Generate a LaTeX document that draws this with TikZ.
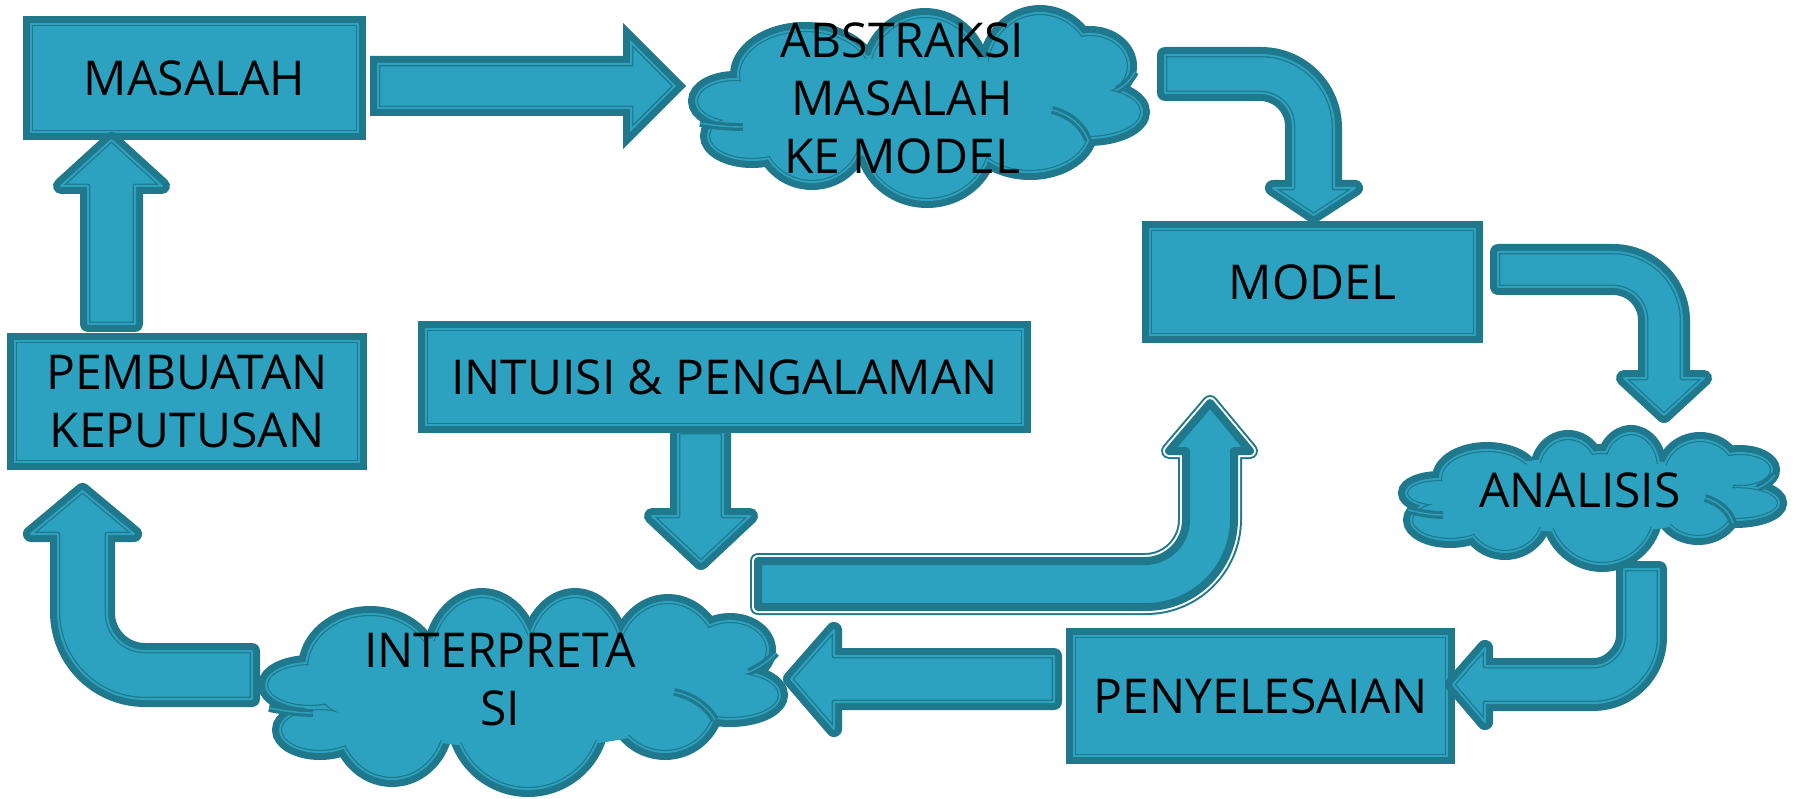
\documentclass[tikz,border=0pt]{standalone}
\usepackage{fontspec}
\setmainfont{Open Sans}
\definecolor{cfill}{RGB}{44,162,192}
\definecolor{cdark}{RGB}{31,120,140}
\newcommand\dfont{\fontsize{48}{58}\selectfont}
\tikzset{
  bord/.style={preaction={draw=cdark, line width=16pt, line join=#1},
    fill=cfill, draw=cdark, line width=1.3pt, double=cfill, double distance=2pt, line join=#1},
  bord/.default=round,
  wbord/.style={preaction={draw=cdark, line width=16pt, line join=round},
    preaction={draw=white, line width=12pt, line join=round},
    fill=cfill, draw=cdark, line width=8pt, line join=round},
  boxn/.style={bord=miter, rectangle, inner sep=0pt, font=\dfont, text=black, align=center},
  stub/.style={draw=cdark, line width=3.2pt, double=cfill, double distance=1.4pt, line cap=butt},
  txt/.style={font=\dfont, text=black, align=center, inner sep=0pt}
}
% cloud = union of ellipses (outer radii given), #2 = inner filler
\newcommand\mycloud[2]{%
  \foreach \x/\y/\a/\b in {#1} \draw[cdark, line width=16pt] (\x,\y) ellipse[x radius=\a-8, y radius=\b-8];
  \foreach \x/\y/\a/\b in {#1,#2} \fill[cfill] (\x,\y) ellipse[x radius=\a-7, y radius=\b-7];
  \foreach \x/\y/\a/\b in {#1} \draw[cdark, line width=1.3pt] (\x,\y) ellipse[x radius=\a-9.65, y radius=\b-9.65];
  \foreach \x/\y/\a/\b in {#1,#2} \fill[cfill] (\x,\y) ellipse[x radius=\a-10.3, y radius=\b-10.3];
}
\begin{document}
\begin{tikzpicture}[x=1pt, y=-1pt]
\useasboundingbox (0,0) rectangle (1793,799);
% clouds
\mycloud{735/101/47/30, 805/75/75/53, 925/75/65/67, 1040/70/62/65, 1090/66/47/40, 1088/112/62/34,
  1030/130/68/50, 927/140/72/68, 812/135/58/55, 752/136/52/32}{919/106/170/60}
\mycloud{1440/493/42/22, 1487/478/55/36, 1568/470/38/40, 1631/468/36/43, 1700/475/45/43, 1740/470/40/25,
  1735/503/52/25, 1698/505/45/40, 1602/508/62/64, 1505/512/48/48, 1450/520/47/28}{1592/495/150/45}
\mycloud{310/685/52/30, 370/668/72/62, 482/662/60/74, 575/658/56/70, 668/662/60/68, 730/650/46/37,
  730/695/58/32, 665/700/60/60, 528/715/82/82, 392/720/62/67, 320/730/48/30}{520/690/200/65}
% inner arcs of the clouds
\draw[stub] (1052,110) .. controls (1068,114) and (1082,124) .. (1088,140);
\draw[stub] (1117,90) .. controls (1124,86) and (1131,80) .. (1135,72);
\draw[stub] (700,123) .. controls (715,126) and (730,127) .. (743,127);
\draw[stub] (1705,498) .. controls (1718,502) and (1729,510) .. (1733,523);
\draw[stub] (1758,488) .. controls (1765,485) and (1771,480) .. (1775,475);
\draw[stub] (1408,510) .. controls (1420,513) and (1432,515) .. (1443,515);
\draw[stub] (674,692) .. controls (690,695) and (707,705) .. (715,720);
\draw[stub] (749,672) .. controls (758,668) and (769,661) .. (776,653);
\draw[stub] (269,708) .. controls (284,711) and (299,713) .. (313,713);
% boxes
\node[boxn, minimum width=327pt, minimum height=108pt] (masalah) at (194.5,78) {MASALAH};
\node[boxn, minimum width=344pt, minimum height=121pt] (pembuatan) at (187,401.5) {PEMBUATAN\\KEPUTUSAN};
\node[boxn, minimum width=325pt, minimum height=106pt] (model) at (1312.5,282) {MODEL};
\node[boxn, minimum width=373pt, minimum height=120pt] (peny) at (1260.5,696) {PENYELESAIAN};
% intuisi arrow below its box
\path[bord] (678,432) -- (723,432) -- (723,516) -- (750,516) -- (701,562) -- (652,516) -- (678,516) -- cycle;
\node[boxn, minimum width=597pt, minimum height=96pt] (intuisi) at (724.5,377) {INTUISI \& PENGALAMAN};
% arrows
\path[bord=miter] (378,64) -- (631,64) -- (631,42.3) -- (674.7,86) -- (631,129.7) -- (631,108) -- (378,108) -- cycle;
\path[bord] (1165,55) -- (1261,55) .. controls (1301.3,55) and (1334,87.7) .. (1334,128) -- (1334,188) -- (1355,188) -- (1313.5,215) -- (1273,188) -- (1293,188) -- (1293,126) .. controls (1293,107.8) and (1278.2,93) .. (1260,93) -- (1165,93) -- cycle;
\path[bord] (1498,252) -- (1613,252) .. controls (1651.1,252) and (1682,282.9) .. (1682,321) -- (1682,378) -- (1704,378) -- (1664,415) -- (1624,378) -- (1646,378) -- (1646,320) .. controls (1646,301.8) and (1631.2,287) .. (1613,287) -- (1498,287) -- cycle;
\path[bord] (1624,569) -- (1659,569) -- (1659,637) .. controls (1659,673.5) and (1629.5,703) .. (1593,703) -- (1485,703) -- (1485,722) -- (1453,684.5) -- (1485,648) -- (1485,666) -- (1594,666) .. controls (1610.6,666) and (1624,649.4) .. (1624,636) -- cycle;
\path[bord] (1054,656) -- (834,656) -- (834,630) -- (791,679) -- (834,729) -- (834,702) -- (1054,702) -- cycle;
\path[bord] (252,651) -- (145,651) .. controls (124,651) and (107,634) .. (107,613) -- (107,534) -- (134,534) -- (82.5,491) -- (31,534) -- (58,534) -- (58,612) .. controls (58,660.05) and (96.95,699) .. (145,699) -- (252,699) -- cycle;
\path[bord] (88,324) -- (88,186) -- (61,186) -- (111.5,140) -- (162,186) -- (135,186) -- (135,324) -- cycle;
\path[wbord] (758,561) -- (1145,561) .. controls (1167.6,561) and (1186,542.6) .. (1186,520) -- (1186,451) -- (1169,451) -- (1210,403) -- (1250,451) -- (1234,451) -- (1234,519) .. controls (1234,567.6) and (1194.6,607) .. (1146,607) -- (758,607) -- cycle;
% cloud texts
\node[txt] (abs) at (902,98.5) {ABSTRAKSI\\MASALAH\\KE MODEL};
\node[txt] (ana) at (1580,490) {ANALISIS};
\node[txt] (intp) at (500,679.5) {INTERPRETA\\SI};
\end{tikzpicture}
\end{document}
